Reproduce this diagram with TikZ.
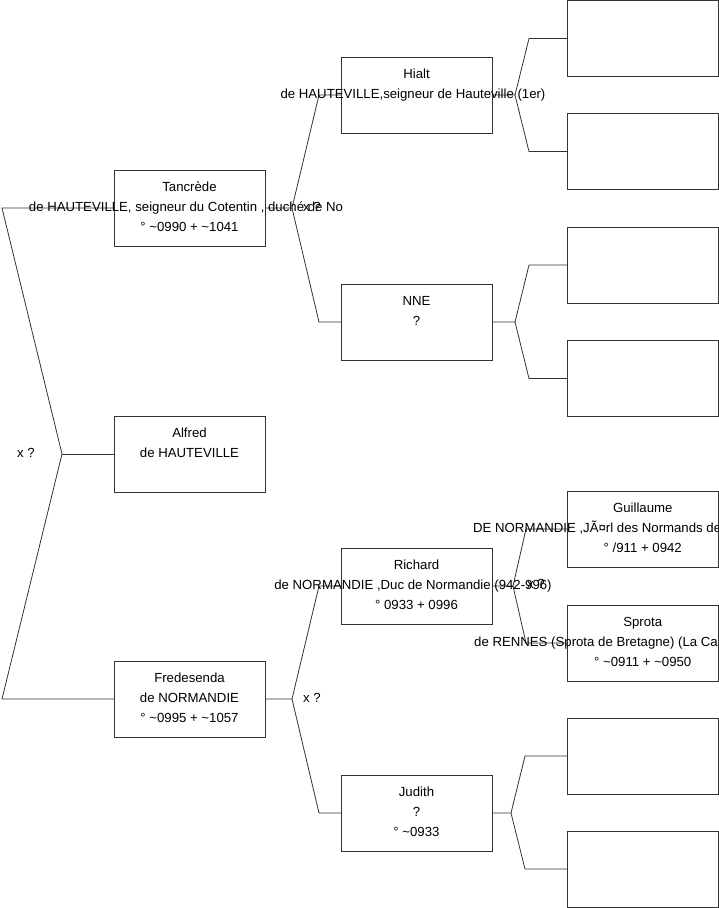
\documentclass[tikz,border=0pt]{standalone}
\usepackage{fontspec}
\setmainfont{Liberation Sans}
\begin{document}
\begin{tikzpicture}[x=1pt,y=-1pt,
  box/.style={draw=black!80, line width=0.8pt, minimum width=151pt, minimum height=76pt, inner sep=0pt, outer sep=0pt},
  box3/.style={box, minimum width=151.5pt},
  txt/.style={font=\fontsize{13.2}{15}\selectfont, inner sep=0pt, anchor=base},
  txtw/.style={txt, anchor=base west},
  link/.style={draw=black!80, line width=0.8pt}]
\clip (0,0) rectangle (719,908);
% boxes
\node[box] (tan) at (189.5,208) {};
\node[box] (alf) at (189.5,454) {};
\node[box] (fre) at (189.5,699) {};
\node[box] (hia) at (416.5,95) {};
\node[box] (nne) at (416.5,322) {};
\node[box] (ric) at (416.5,586) {};
\node[box] (jud) at (416.5,813) {};
\node[box3] (b1) at (642.75,38.5) {};
\node[box3] (b2) at (642.75,151.5) {};
\node[box3] (b3) at (642.75,265) {};
\node[box3] (b4) at (642.75,378.5) {};
\node[box3] (gui) at (642.75,529) {};
\node[box3] (spr) at (642.75,643) {};
\node[box3] (b7) at (642.75,756) {};
\node[box3] (b8) at (642.75,869) {};
% fork points
\coordinate (r0) at (2,208);
\coordinate (r1) at (2,699);
\coordinate (rv) at (62,454);
\coordinate (tv) at (292,208);
\coordinate (tu) at (319,95);
\coordinate (td) at (319,322);
\coordinate (hv) at (515,95);
\coordinate (hu) at (529,38.5);
\coordinate (hd) at (529,151.5);
\coordinate (nv) at (515,322);
\coordinate (nu) at (529,265);
\coordinate (nd) at (529,378.5);
\coordinate (fv) at (292,699);
\coordinate (fu) at (319,586);
\coordinate (fd) at (319,813);
\coordinate (rcv) at (513,586);
\coordinate (rcu) at (526,529);
\coordinate (rcd) at (526,643);
\coordinate (jv) at (511,813);
\coordinate (ju) at (525,756);
\coordinate (jd) at (525,869);
% connectors
\draw[link] (tan.west) -- (r0) -- (rv) -- (r1) -- (fre.west);
\draw[link] (rv) -- (alf.west);
\draw[link] (tan.east) -- (tv) -- (tu) -- (hia.west);
\draw[link] (tv) -- (td) -- (nne.west);
\draw[link] (hia.east) -- (hv) -- (hu) -- (b1.west);
\draw[link] (hv) -- (hd) -- (b2.west);
\draw[link] (nne.east) -- (nv) -- (nu) -- (b3.west);
\draw[link] (nv) -- (nd) -- (b4.west);
\draw[link] (fre.east) -- (fv) -- (fu) -- (ric.west);
\draw[link] (fv) -- (fd) -- (jud.west);
\draw[link] (ric.east) -- (rcv) -- (rcu) -- (gui.west);
\draw[link] (rcv) -- (rcd) -- (spr.west);
\draw[link] (jud.east) -- (jv) -- (ju) -- (b7.west);
\draw[link] (jv) -- (jd) -- (b8.west);
% texts
\node[txt] (tan1) at (189.5,191) {Tancrède};
\node[txt] (tan2) at (186,211) {de HAUTEVILLE, seigneur du Cotentin , duché de No};
\node[txt] (tan3) at (189.5,231) {° \char`\~0990 + \char`\~1041};
\node[txt] (alf1) at (189.5,437) {Alfred};
\node[txt] (alf2) at (189.5,457) {de HAUTEVILLE};
\node[txt] (fre1) at (189.5,682) {Fredesenda};
\node[txt] (fre2) at (189.5,702) {de NORMANDIE};
\node[txt] (fre3) at (189.5,722) {° \char`\~0995 + \char`\~1057};
\node[txt] (hia1) at (416.5,78) {Hialt};
\node[txt] (hia2) at (413,98) {de HAUTEVILLE,seigneur de Hauteville (1er)};
\node[txt] (nne1) at (416.5,305) {NNE};
\node[txt] (nne2) at (416.5,325) {?};
\node[txt] (ric1) at (416.5,569) {Richard};
\node[txt] (ric2) at (413,589) {de NORMANDIE ,Duc de Normandie (942-996)};
\node[txt] (ric3) at (416.5,609) {° 0933 + 0996};
\node[txt] (jud1) at (416.5,796) {Judith};
\node[txt] (jud2) at (416.5,816) {?};
\node[txt] (jud3) at (416.5,836) {° \char`\~0933};
\node[txt] (gui1) at (642.75,512) {Guillaume};
\node[txtw] (gui2) at (473,532) {DE NORMANDIE ,JÃ¤rl des Normands de};
\node[txt] (gui3) at (642.75,552) {° /911 + 0942};
\node[txt] (spr1) at (642.75,626) {Sprota};
\node[txtw] (spr2) at (474,646) {de RENNES (Sprota de Bretagne) (La Ca};
\node[txt] (spr3) at (642.75,666) {° \char`\~0911 + \char`\~0950};
% union labels
\node[txt] (x0) at (26,457) {x ?};
\node[txt] (x1) at (312,211) {x ?};
\node[txt] (x2) at (312,702) {x ?};
\node[txt] (x3) at (536,588) {x ?};
\end{tikzpicture}
\end{document}
